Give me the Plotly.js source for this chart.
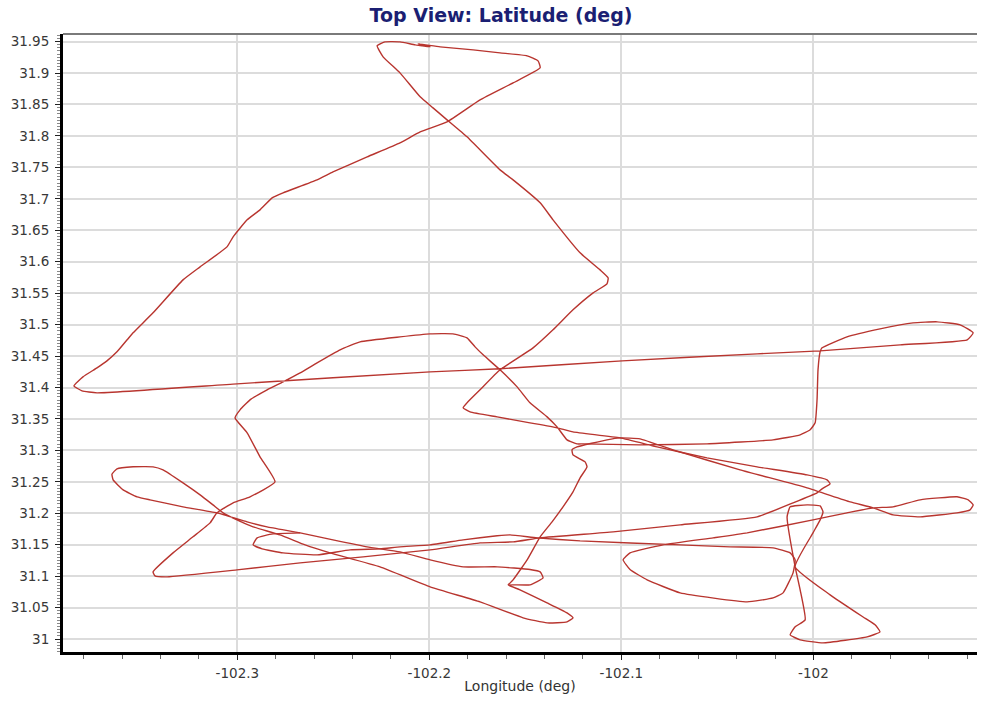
<!DOCTYPE html>
<html>
<head>
<meta charset="utf-8">
<script src="https://cdn.plot.ly/plotly-3.0.1.min.js"></script>
<style>
html,body{margin:0;padding:0;background:#ffffff;}
#chart{width:983px;height:702px;}
</style>
</head>
<body>
<div id="chart"></div>
<script>
// Flight track, main loop (far-left turn, top loop, big triangle, right loop)
const path1Lon = [-102.3851,-102.3804,-102.3731,-102.3679,-102.3627,-102.3574,-102.3543,-102.3439,-102.3283,-102.3194,
 -102.3054,-102.3022,-102.2949,-102.2882,-102.2819,-102.2762,-102.2585,-102.2502,-102.2324,-102.2153,
 -102.2048,-102.1908,-102.1736,-102.1564,-102.1423,-102.1434,-102.1491,-102.1632,-102.1772,-102.1944,
 -102.2059,-102.1996,-102.2074,-102.2153,-102.2231,-102.2272,-102.2241,-102.2153,-102.2048,-102.1981,
 -102.1908,-102.1804,-102.1632,-102.1564,-102.1423,-102.1356,-102.1215,-102.1111,-102.1069,-102.1075,
 -102.1147,-102.1252,-102.1356,-102.1460,-102.1632,-102.1736,-102.1804,-102.1824,-102.1788,-102.1647,
 -102.1476,-102.1335,-102.1252,-102.1007,-102.0814,-102.0554,-102.0293,-102.0033,-101.9929,-101.9913,
 -101.9955,-101.9981,-102.0106,-102.0293,-102.0694,-102.1043,-102.1423,-102.1564,-102.1736,-102.1996,
 -102.2345,-102.2673,-102.3002,-102.3366,-102.3429,-102.3439,-102.3335,-102.3231,-102.3142,-102.3106,
 -102.3022,-102.2934,-102.2804,-102.2882,-102.2949,-102.3012,-102.2986,-102.2934,-102.2845,-102.2762,
 -102.2673,-102.2585,-102.2465,-102.2361,-102.2153,-102.1996,-102.1877,-102.1804,-102.1762,-102.1720,
 -102.1632,-102.1543,-102.1476,-102.1387,-102.1335,-102.1283,-102.1231,-102.1199,-102.0903,-102.0554,
 -102.0210,-102.0069,-102.0017,-101.9991,-101.9981,-101.9976,-101.9965,-101.9955,-101.9825,-101.9653,
 -101.9481,-101.9356,-101.9236,-101.9168,-101.9199,-101.9548,-101.9965,-102.0293,-102.0996,-102.1632,
 -102.1996,-102.3002,-102.3731,-102.3809,-102.3851];
const path1Lat = [31.4026,31.4169,31.4312,31.4424,31.4567,31.4758,31.4869,31.5187,31.5711,31.5918,
 31.6236,31.6395,31.6665,31.6824,31.7015,31.7095,31.7301,31.7428,31.7667,31.7889,
 31.8064,31.8223,31.8573,31.8843,31.9082,31.9193,31.9273,31.9320,31.9368,31.9416,
 31.9463,31.9416,31.9448,31.9495,31.9495,31.9432,31.9257,31.9002,31.8621,31.8446,
 31.8255,31.7985,31.7460,31.7301,31.6936,31.6665,31.6141,31.5870,31.5743,31.5648,
 31.5505,31.5235,31.4917,31.4630,31.4281,31.3963,31.3756,31.3677,31.3613,31.3533,
 31.3438,31.3359,31.3295,31.3199,31.3056,31.2882,31.2739,31.2611,31.2532,31.2468,
 31.2389,31.2325,31.2166,31.1944,31.1816,31.1705,31.1610,31.1546,31.1530,31.1419,
 31.1308,31.1212,31.1101,31.0990,31.1006,31.1069,31.1371,31.1626,31.1848,31.2007,
 31.2166,31.2262,31.2500,31.2898,31.3279,31.3517,31.3645,31.3804,31.3963,31.4090,
 31.4233,31.4392,31.4599,31.4726,31.4805,31.4853,31.4853,31.4789,31.4646,31.4519,
 31.4281,31.4010,31.3756,31.3533,31.3374,31.3168,31.3104,31.3104,31.3088,31.3104,
 31.3168,31.3247,31.3327,31.3438,31.3804,31.4281,31.4567,31.4630,31.4805,31.4932,
 31.5028,31.5044,31.4996,31.4869,31.4758,31.4678,31.4583,31.4535,31.4424,31.4297,
 31.4249,31.4058,31.3915,31.3947,31.4026];

// Second loop: climb at -102.12, far-right loop, lower-middle loop, 31.15 line, small loop
const path2Lon = [-102.1590,-102.1564,-102.1491,-102.1423,-102.1361,-102.1304,-102.1252,-102.1215,-102.1179,-102.1189,
 -102.1252,-102.1257,-102.1231,-102.1075,-102.1007,-102.0903,-102.0731,-102.0382,-102.0033,-101.9809,
 -101.9689,-101.9585,-101.9444,-101.9252,-101.9184,-101.9168,-101.9194,-101.9252,-101.9444,-101.9585,
 -101.9689,-101.9825,-102.0002,-102.0345,-102.0522,-102.0783,-102.0955,-102.0991,-102.0955,-102.0866,
 -102.0694,-102.0345,-102.0210,-102.0158,-102.0106,-102.0095,-102.0121,-102.0210,-102.0434,-102.0694,
 -102.1215,-102.1439,-102.1580,-102.1647,-102.1824,-102.1996,-102.2153,-102.2257,-102.2413,-102.2585,
 -102.2762,-102.2871,-102.2918,-102.2897,-102.2814,-102.2673];
const path2Lat = [31.0862,31.0942,31.1260,31.1626,31.1864,31.2103,31.2341,31.2564,31.2739,31.2818,
 31.2929,31.3009,31.3056,31.3168,31.3199,31.3184,31.3009,31.2691,31.2405,31.2182,
 31.2087,31.1975,31.1944,31.2007,31.2055,31.2134,31.2214,31.2262,31.2214,31.2103,
 31.2087,31.2007,31.1896,31.1689,31.1610,31.1498,31.1371,31.1260,31.1106,31.0942,
 31.0735,31.0592,31.0656,31.0735,31.1053,31.1260,31.1371,31.1451,31.1467,31.1498,
 31.1562,31.1610,31.1657,31.1642,31.1578,31.1498,31.1467,31.1435,31.1419,31.1339,
 31.1371,31.1435,31.1498,31.1610,31.1673,31.1689];

// Third loop: left teardrop and the two southern legs
const path3Lon = [-102.1590,-102.1476,-102.1408,-102.1423,-102.1476,-102.1647,-102.1824,-102.1996,-102.2153,-102.2324,
 -102.2502,-102.2673,-102.2845,-102.2949,-102.3106,-102.3283,-102.3455,-102.3522,-102.3595,-102.3647,
 -102.3653,-102.3627,-102.3543,-102.3439,-102.3387,-102.3283,-102.3194,-102.3127,-102.3074,-102.3002,
 -102.2918,-102.2778,-102.2647,-102.2517,-102.2257,-102.1996,-102.1736,-102.1512,-102.1387,-102.1283,
 -102.1252,-102.1283,-102.1387,-102.1528,-102.1590];
const path3Lat = [31.0862,31.0862,31.0974,31.1069,31.1106,31.1149,31.1149,31.1260,31.1387,31.1467,
 31.1578,31.1689,31.1785,31.1864,31.2007,31.2103,31.2214,31.2262,31.2373,31.2532,
 31.2622,31.2707,31.2739,31.2739,31.2691,31.2484,31.2293,31.2134,31.2007,31.1896,
 31.1785,31.1657,31.1498,31.1371,31.1149,31.0831,31.0592,31.0338,31.0258,31.0274,
 31.0338,31.0417,31.0576,31.0783,31.0862];

// Fourth loop: figure-eight near -102.0
const path4Lon = [-102.0137,-102.0121,-102.0033,-101.9965,-101.9950,-101.9965,-102.0002,-102.0095,-101.9913,-101.9741,
 -101.9679,-101.9653,-101.9720,-101.9950,-102.0069,-102.0121,-102.0095,-102.0043,-102.0069,-102.0095,-102.0137];
const path4Lat = [31.1944,31.2103,31.2134,31.2118,31.2023,31.1896,31.1689,31.1149,31.0704,31.0351,
 31.0227,31.0115,31.0036,30.9940,30.9988,31.0068,31.0195,31.0306,31.0783,31.1149,31.1944];

const xTickVals = [-102.3, -102.2, -102.1, -102.0];
const xTickText = ['-102.3', '-102.2', '-102.1', '-102'];
const yTickVals = [31, 31.05, 31.1, 31.15, 31.2, 31.25, 31.3, 31.35, 31.4, 31.45, 31.5, 31.55, 31.6, 31.65, 31.7, 31.75, 31.8, 31.85, 31.9, 31.95];
const yTickText = ['31', '31.05', '31.1', '31.15', '31.2', '31.25', '31.3', '31.35', '31.4', '31.45', '31.5', '31.55', '31.6', '31.65', '31.7', '31.75', '31.8', '31.85', '31.9', '31.95'];

const paths = [[path1Lon, path1Lat], [path2Lon, path2Lat], [path3Lon, path3Lat], [path4Lon, path4Lat]];
const traces = paths.map(function (p) {
  return {
    type: 'scatter', mode: 'lines', x: p[0], y: p[1],
    line: {color: '#b8352f', width: 1.4, shape: 'spline', smoothing: 0.4},
    hoverinfo: 'skip', showlegend: false
  };
});

const tickFont = {family: 'DejaVu Sans, Verdana, sans-serif', size: 13.5, color: '#383838'};

const layout = {
  width: 983, height: 702,
  margin: {l: 63, r: 6, t: 34, b: 50, pad: 0},
  paper_bgcolor: '#ffffff', plot_bgcolor: '#ffffff',
  font: {family: 'DejaVu Sans, Verdana, sans-serif', color: '#333333', size: 13.5},
  showlegend: false,
  title: {
    text: '<b>Top View: Latitude (deg)</b>',
    font: {family: 'DejaVu Sans, Verdana, sans-serif', size: 19, color: '#1b1f73'},
    x: 0.5097, xanchor: 'center', y: 1 - 15 / 702, yanchor: 'middle'
  },
  xaxis: {
    range: [-102.3908, -101.9148],
    tickmode: 'array', tickvals: xTickVals, ticktext: xTickText,
    ticks: 'outside', ticklen: 5, tickwidth: 1, tickcolor: '#222',
    tickfont: tickFont, ticklabelstandoff: 2,
    showline: true, linecolor: '#000', linewidth: 3,
    showgrid: true, gridcolor: '#dcdcdc', gridwidth: 2,
    zeroline: false, automargin: false,
    minor: {tickmode: 'linear', tick0: -102.3, dtick: 0.02, ticks: 'outside', ticklen: 4, tickcolor: '#666', showgrid: false},
    title: {text: 'Longitude (deg)', font: {family: 'DejaVu Sans, Verdana, sans-serif', size: 14, color: '#333333'}, standoff: 1}
  },
  yaxis: {
    range: [30.9795, 31.962],
    tickmode: 'array', tickvals: yTickVals, ticktext: yTickText,
    ticks: 'outside', ticklen: 5, tickwidth: 1, tickcolor: '#222',
    tickfont: tickFont, ticklabelstandoff: 3,
    showline: true, linecolor: '#000', linewidth: 3,
    showgrid: true, gridcolor: '#dcdcdc', gridwidth: 2,
    zeroline: false, automargin: false,
    minor: {tickmode: 'linear', tick0: 31, dtick: 0.005, ticks: 'outside', ticklen: 3, tickcolor: '#888', showgrid: false}
  },
  shapes: [
    {type: 'line', xref: 'paper', yref: 'paper', x0: 0, x1: 1, y0: 1, y1: 1, line: {color: '#7a7a7a', width: 2}}
  ]
};

Plotly.newPlot('chart', traces, layout, {displayModeBar: false, staticPlot: true});
</script>
</body>
</html>
